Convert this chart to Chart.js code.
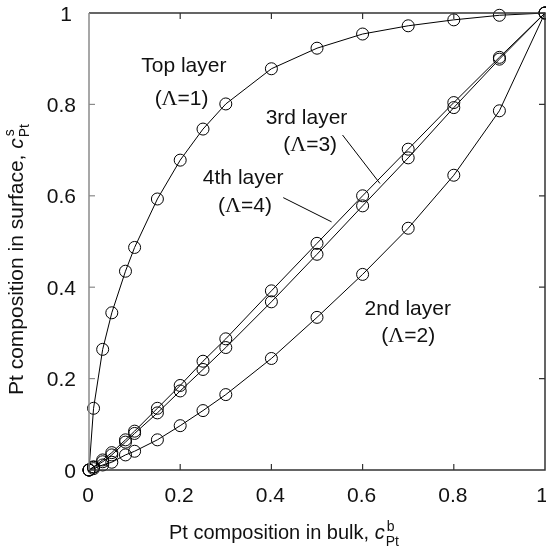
<!DOCTYPE html>
<html>
<head>
<meta charset="utf-8">
<script src="https://cdn.jsdelivr.net/npm/chart.js@4.4.1/dist/chart.umd.min.js"></script>
<style>
    html, body { margin: 0; padding: 0; background: #fff; }
    #wrap { width: 546px; height: 548px; }
</style>
</head>
<body>
<div id="wrap"><canvas id="segregationChart" width="546" height="548"></canvas></div>
<script>
// Bulk Pt composition (shared x values for every layer)
const bulkPt = [0, 0.01, 0.03, 0.05, 0.08, 0.1, 0.15, 0.2, 0.25, 0.3, 0.4, 0.5, 0.6, 0.7, 0.8, 0.9, 1];

// Surface Pt composition per layer
const topLayer = [0, 0.135, 0.264, 0.344, 0.435, 0.487, 0.593, 0.678, 0.746, 0.801, 0.878, 0.923, 0.954, 0.972, 0.985, 0.995, 1];
const secondLayer = [0, 0.003, 0.011, 0.017, 0.033, 0.041, 0.066, 0.097, 0.130, 0.165, 0.244, 0.334, 0.428, 0.529, 0.645, 0.786, 1];
const thirdLayer = [0, 0.006, 0.018, 0.033, 0.061, 0.080, 0.125, 0.173, 0.220, 0.268, 0.368, 0.472, 0.578, 0.683, 0.793, 0.899, 1];
const fourthLayer = [0, 0.007, 0.022, 0.038, 0.066, 0.085, 0.135, 0.185, 0.238, 0.287, 0.392, 0.496, 0.600, 0.702, 0.804, 0.903, 1];

const tickValues = [0, 0.2, 0.4, 0.6, 0.8, 1];
const tickLabels = ['0', '0.2', '0.4', '0.6', '0.8', '1'];

const layerNames = ['Top layer', '2nd layer', '3rd layer', '4th layer'];
const layerIndex = ['1', '2', '3', '4'];

const SANS = '"Liberation Sans", Arial, sans-serif';
const SERIF = '"Liberation Serif", "Times New Roman", serif';

// where the annotations sit, in data units
const labelSpots = [
    { name: [0.208, 0.884], index: [0.203, 0.812] },
    { name: [0.699, 0.352], index: [0.700, 0.293] },
    { name: [0.477, 0.770], index: [0.485, 0.711] },
    { name: [0.338, 0.639], index: [0.342, 0.578] }
];
const pointers = [
    { from: [0.556, 0.733], to: [0.638, 0.627] },
    { from: [0.426, 0.596], to: [0.532, 0.543] }
];

// markers at (0,0) and (1,1) are allowed to hang over the frame,
// so don't let them shrink the plot area
Chart.LineController.prototype.getMaxOverflow = function () { return 0; };

function toPoints(ys) {
    return bulkPt.map((x, i) => ({ x: x, y: ys[i] }));
}

function series(ys) {
    return {
        data: toPoints(ys),
        borderColor: '#000',
        borderWidth: 1,
        pointRadius: 6,
        pointHoverRadius: 6,
        pointBorderWidth: 1,
        pointBorderColor: '#000',
        pointBackgroundColor: 'rgba(0,0,0,0)',
        tension: 0,
        clip: false
    };
}

// draws a row of text pieces (font + vertical shift), starting at x
function drawPieces(ctx, pieces, x, y) {
    pieces.forEach(p => {
        ctx.font = p.font;
        ctx.fillText(p.text, x, y + (p.dy || 0));
        x += ctx.measureText(p.text).width + (p.gap || 0);
    });
}

function piecesWidth(ctx, pieces) {
    let w = 0;
    pieces.forEach(p => {
        ctx.font = p.font;
        w += ctx.measureText(p.text).width + (p.gap || 0);
    });
    return w;
}

const decorPlugin = {
    id: 'decor',
    afterDatasetsDraw(chart) {
        const ctx = chart.ctx;
        const xs = chart.scales.x;
        const ys = chart.scales.y;
        const a = chart.chartArea;
        ctx.save();

        // frame
        ctx.lineWidth = 1.5;
        ctx.strokeStyle = '#333';
        ctx.beginPath();
        ctx.moveTo(a.left, a.bottom);
        ctx.lineTo(a.right, a.bottom);
        ctx.lineTo(a.right, a.top);
        ctx.lineTo(a.left, a.top);
        ctx.stroke();
        ctx.strokeStyle = '#8a8a8a';
        ctx.beginPath();
        ctx.moveTo(a.left, a.top);
        ctx.lineTo(a.left, a.bottom);
        ctx.stroke();

        // inward ticks on all four sides
        const len = 6;
        ctx.lineWidth = 1.2;
        tickValues.slice(1, -1).forEach(v => {
            const px = xs.getPixelForValue(v);
            const py = ys.getPixelForValue(v);
            ctx.strokeStyle = '#333';
            ctx.beginPath();
            ctx.moveTo(px, a.bottom); ctx.lineTo(px, a.bottom - len);
            ctx.moveTo(px, a.top); ctx.lineTo(px, a.top + len);
            ctx.moveTo(a.right, py); ctx.lineTo(a.right - len, py);
            ctx.stroke();
            ctx.strokeStyle = '#8a8a8a';
            ctx.beginPath();
            ctx.moveTo(a.left, py); ctx.lineTo(a.left + len, py);
            ctx.stroke();
        });

        // tick labels
        ctx.fillStyle = '#111';
        ctx.font = '21px ' + SANS;
        ctx.textBaseline = 'alphabetic';
        tickValues.forEach((v, i) => {
            const px = xs.getPixelForValue(v);
            ctx.textAlign = 'center';
            // keep the last label inside the canvas
            ctx.fillText(tickLabels[i], i === tickValues.length - 1 ? px - 3 : px - 1, a.bottom + 32);
            ctx.textAlign = 'right';
            ctx.fillText(tickLabels[i], i === tickValues.length - 1 ? a.left - 17 : a.left - 13,
                ys.getPixelForValue(v) + 7.5);
        });

        // pointer lines for the 3rd and 4th layer labels
        ctx.strokeStyle = '#000';
        ctx.lineWidth = 1;
        pointers.forEach(p => {
            ctx.beginPath();
            ctx.moveTo(xs.getPixelForValue(p.from[0]), ys.getPixelForValue(p.from[1]));
            ctx.lineTo(xs.getPixelForValue(p.to[0]), ys.getPixelForValue(p.to[1]));
            ctx.stroke();
        });

        // layer labels
        ctx.textBaseline = 'middle';
        ctx.textAlign = 'left';
        labelSpots.forEach((spot, i) => {
            const name = [{ text: layerNames[i], font: '21px ' + SANS }];
            const idx = [
                { text: '(', font: '21px ' + SANS },
                { text: '\u039B', font: '22px ' + SERIF },
                { text: '=' + layerIndex[i] + ')', font: '21px ' + SANS }
            ];
            const nx = xs.getPixelForValue(spot.name[0]);
            const ny = ys.getPixelForValue(spot.name[1]);
            drawPieces(ctx, name, nx - piecesWidth(ctx, name) / 2, ny);
            const ix = xs.getPixelForValue(spot.index[0]);
            const iy = ys.getPixelForValue(spot.index[1]);
            drawPieces(ctx, idx, ix - piecesWidth(ctx, idx) / 2, iy);
        });

        // axis titles with super/subscripts
        ctx.textBaseline = 'alphabetic';
        const xTitle = [
            { text: 'Pt composition in bulk, ', font: '20px ' + SANS },
            { text: 'c', font: 'italic 20px ' + SANS, gap: 1 }
        ];
        drawPieces(ctx, xTitle, 169, 539);
        let sx = 169 + piecesWidth(ctx, xTitle);
        ctx.font = '14px ' + SANS;
        ctx.fillText('b', sx + 1, 531);
        ctx.fillText('Pt', sx, 546);

        ctx.translate(23, 395);
        ctx.rotate(-Math.PI / 2);
        const yTitle = [
            { text: 'Pt composition in surface, ', font: '21px ' + SANS },
            { text: 'c', font: 'italic 21px ' + SANS, gap: 1 }
        ];
        drawPieces(ctx, yTitle, 0, 0);
        sx = piecesWidth(ctx, yTitle);
        ctx.font = '14px ' + SANS;
        ctx.fillText('s', sx + 1, -9);
        ctx.fillText('Pt', sx, 6);

        ctx.restore();
    }
};

const ctx = document.getElementById('segregationChart').getContext('2d');
new Chart(ctx, {
    type: 'line',
    data: {
        datasets: [
            series(topLayer),
            series(secondLayer),
            series(thirdLayer),
            series(fourthLayer)
        ]
    },
    options: {
        responsive: false,
        animation: false,
        devicePixelRatio: 1,
        layout: { padding: { top: 13, right: 1, left: 0, bottom: 0 } },
        plugins: {
            legend: { display: false },
            tooltip: { enabled: false }
        },
        scales: {
            x: {
                type: 'linear',
                min: 0,
                max: 1,
                grid: { display: false, drawTicks: false },
                border: { display: false },
                ticks: { display: false },
                afterFit: s => { s.height = 78; s.paddingLeft = 0; s.paddingRight = 0; }
            },
            y: {
                type: 'linear',
                min: 0,
                max: 1,
                grid: { display: false, drawTicks: false },
                border: { display: false },
                ticks: { display: false },
                afterFit: s => { s.width = 89; s.paddingTop = 0; s.paddingBottom = 0; }
            }
        }
    },
    plugins: [decorPlugin]
});
</script>
</body>
</html>
